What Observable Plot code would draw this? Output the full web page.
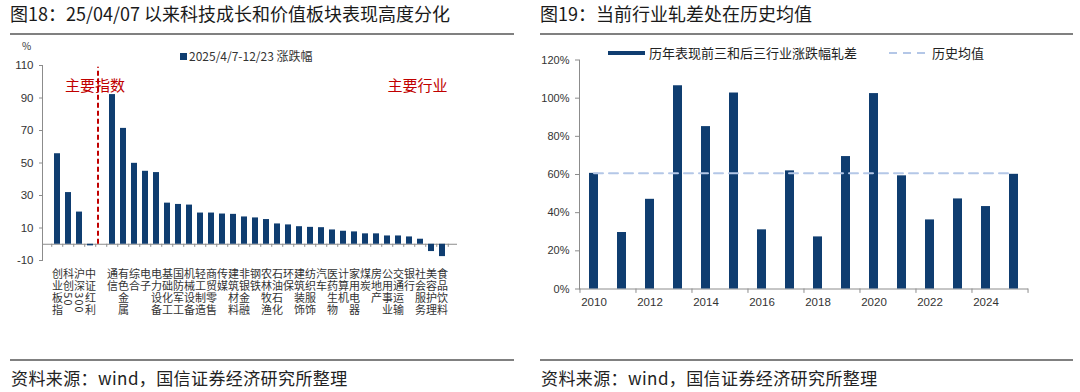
<!DOCTYPE html>
<html><head><meta charset="utf-8">
<script src="https://cdn.jsdelivr.net/npm/d3@7"></script>
<script src="https://cdn.jsdelivr.net/npm/@observablehq/plot@0.6"></script>
<style>
body{margin:0;background:#fff;}
#wrap{position:relative;width:1080px;height:392px;overflow:hidden;font-family:"Noto Sans CJK SC",sans-serif;color:#1a1a1a;}
.abs{position:absolute;white-space:nowrap;}
.title{font-size:18px;line-height:22px;top:2px;color:#1a1a1a;}
.hr{height:2px;background:#808080;}
.src{font-size:17px;line-height:20px;top:368px;letter-spacing:0.4px;color:#222;}
.lp [aria-label="x-axis tick label"] text{writing-mode:vertical-rl;text-anchor:start;letter-spacing:1px;}
</style></head><body>
<div id="wrap">
  <div class="abs title" style="left:10px;">图18：25/04/07 以来科技成长和价值板块表现高度分化</div>
  <div class="abs title" style="left:540px;">图19：当前行业轧差处在历史均值</div>
  <div class="abs hr" style="left:10px;top:33px;width:504px;"></div>
  <div class="abs hr" style="left:540px;top:33px;width:533px;"></div>
  <div class="abs hr" style="left:10px;top:359px;width:504px;"></div>
  <div class="abs hr" style="left:540px;top:359px;width:533px;"></div>
  <div class="abs src" style="left:11px;">资料来源：wind，国信证券经济研究所整理</div>
  <div class="abs src" style="left:541px;">资料来源：wind，国信证券经济研究所整理</div>

  <div id="left" class="abs" style="left:0;top:40px;"></div>
  <div id="right" class="abs" style="left:540px;top:40px;"></div>

  <div class="abs" style="left:22px;top:40px;font-size:10px;line-height:12px;color:#333;">%</div>
  <div class="abs" style="left:180px;top:53px;width:7px;height:7px;background:#0f3d70;"></div>
  <div class="abs" style="left:189px;top:49px;font-size:12px;line-height:14px;color:#333;">2025/4/7-12/23 涨跌幅</div>

  <div class="abs" style="left:608px;top:51px;width:37px;height:4px;background:#0f3d70;"></div>
  <div class="abs" style="left:649px;top:45px;font-size:13px;line-height:16px;color:#222;">历年表现前三和后三行业涨跌幅轧差</div>
  <svg class="abs" style="left:889px;top:49px;" width="40" height="8"><line x1="0" y1="4" x2="40" y2="4" stroke="#b4c7e7" stroke-width="2" stroke-dasharray="8,6"/></svg>
  <div class="abs" style="left:932px;top:45px;font-size:13px;line-height:16px;color:#222;">历史均值</div>
</div>
<script>
// ---- Left chart data ----
const indexNames = ["创业板指","科创50","沪深300","中证红利"];
const indexValues = [55.7, 31.8, 19.8, -1.0];
const industryNames = ["通信","有色金属","综合","电子","电力设备","基础化工","国防军工","机械设备","轻工制造","商贸零售","传媒","建筑材料","非银金融","钢铁","农林牧渔","石油石化","环保","建筑装饰","纺织服饰","汽车","医药生物","计算机","家用电器","煤炭","房地产","公用事业","交通运输","银行","社会服务","美容护理","食品饮料"];
const industryValues = [92.1, 71.3, 49.8, 44.9, 44.1, 25.3, 24.5, 24.1, 19.2, 19.2, 18.6, 18.4, 16.8, 16.2, 15.2, 12.5, 11.9, 10.8, 10.4, 10.2, 8.8, 8.0, 7.6, 6.4, 6.4, 5.1, 5.1, 4.5, 3.1, -4.5, -7.6];
const leftTicks = [-10, 10, 30, 50, 70, 90, 110];

// ---- Right chart data ----
const years = [2010,2011,2012,2013,2014,2015,2016,2017,2018,2019,2020,2021,2022,2023,2024,2025];
const spreadValues = [60.6, 29.6, 47.0, 106.5, 85.1, 102.7, 31.0, 61.9, 27.3, 69.4, 102.4, 59.3, 36.2, 47.2, 43.2, 60.1];
const histMean = [60.6];
const rightTicks = [0, 20, 40, 60, 80, 100, 120];

const NAVY = "#0f3d70";
const RED = "#c00000";
const AXIS = "#8c8c8c";
const FONT = "'Liberation Sans','Noto Sans CJK SC',sans-serif";
const CJK = "'Noto Sans CJK SC',sans-serif";

// Left
const GAP = " ";
const leftData = [
  ...indexNames.map((n, i) => ({name: n, value: indexValues[i]})),
  ...industryNames.map((n, i) => ({name: n, value: industryValues[i]}))
];
const leftDomain = [...indexNames, GAP, ...industryNames];
const LW = 520, LH = 300, LML = 42, LMR = 63;
const leftStep = (LW - LML - LMR) / leftDomain.length;

const leftPlot = Plot.plot({
  className: "lp",
  width: LW, height: LH,
  marginLeft: LML, marginRight: LMR, marginTop: 25, marginBottom: 80,
  style: {background: "transparent", fontFamily: FONT, overflow: "visible"},
  x: {type: "band", domain: leftDomain, paddingInner: 0.5, paddingOuter: 0.25, label: null},
  y: {domain: [-10, 110], label: null},
  marks: [
    Plot.ruleY([0], {stroke: AXIS}),
    Plot.barY(leftData, {x: "name", y: "value", fill: NAVY}),
    Plot.ruleX(leftDomain, {x: d => d, y1: 0, y2: -1.9, dx: -leftStep / 2, stroke: AXIS}),
    Plot.ruleX([leftDomain[leftDomain.length - 1]], {x: d => d, y1: 0, y2: -1.9, dx: leftStep / 2, stroke: AXIS}),
    Plot.ruleX([GAP], {x: d => d, y1: 0, y2: 109, stroke: RED, strokeWidth: 2, strokeDasharray: "5,3", dx: -3.5}),
    Plot.text(["主要指数"], {x: () => "中证红利", y: () => 97, text: d => d, fill: RED, fontSize: 15, fontFamily: CJK, dx: 4.5}),
    Plot.text(["主要行业"], {x: () => "社会服务", y: () => 97, text: d => d, fill: RED, fontSize: 15, fontFamily: CJK, dx: -3}),
    Plot.axisX({tickSize: 0, tickPadding: 0, fontSize: 11, fill: "#333", fontFamily: CJK, label: null,
      tickFormat: d => d.trim()}),
    Plot.axisY({ticks: leftTicks, tickSize: 3, tickPadding: 6, fontSize: 11.5, fill: "#333", stroke: AXIS, label: null, tickFormat: d => String(d)}),
    Plot.frame({anchor: "left", stroke: AXIS})
  ]
});
document.getElementById("left").appendChild(leftPlot);

// Right
const rightData = years.map((y, i) => ({year: y, value: spreadValues[i]}));
const meanData = years.map(y => ({year: y, value: histMean[0]}));
const RW = 540, RH = 300, RML = 39, RMR = 52;
const rightStep = (RW - RML - RMR) / years.length;

const rightPlot = Plot.plot({
  width: RW, height: RH,
  marginLeft: RML, marginRight: RMR, marginTop: 19.5, marginBottom: 51.5,
  style: {background: "transparent", fontFamily: FONT, overflow: "visible"},
  x: {type: "band", domain: years, paddingInner: 0.68, paddingOuter: 0.34, label: null},
  y: {domain: [0, 120], label: null},
  marks: [
    Plot.ruleY([0], {stroke: AXIS}),
    Plot.barY(rightData, {x: "year", y: "value", fill: NAVY}),
    Plot.lineY(meanData, {x: "year", y: "value", stroke: "#b4c7e7", strokeWidth: 2, strokeDasharray: "9,6"}),
    Plot.ruleX(years.filter((y, i) => i % 2 === 0), {x: d => d, y1: 0, y2: -2.3, dx: -rightStep / 2, stroke: AXIS}),
    Plot.ruleX([years[years.length - 1]], {x: d => d, y1: 0, y2: -2.3, dx: rightStep / 2, stroke: AXIS}),
    Plot.axisX({tickSize: 0, tickPadding: 9, fontSize: 11.5, fill: "#333", label: null, tickFormat: d => d % 2 === 0 ? String(d) : ""}),
    Plot.axisY({ticks: rightTicks, tickSize: 4, tickPadding: 6, fontSize: 11, fill: "#333", stroke: AXIS, label: null, tickFormat: d => d + "%"}),
    Plot.frame({anchor: "left", stroke: AXIS})
  ]
});
document.getElementById("right").appendChild(rightPlot);
</script>
</body></html>
